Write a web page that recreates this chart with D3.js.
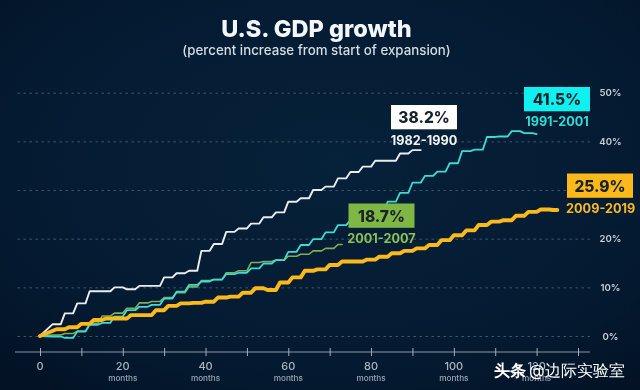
<!DOCTYPE html>
<html><head><meta charset="utf-8">
<script src="https://cdn.jsdelivr.net/npm/d3@7"></script>
<style>html,body{margin:0;padding:0;background:#041729}svg{display:block;filter:blur(0.45px)}text{font-family:Inter,"Noto Sans",sans-serif}</style>
</head><body><div id="c"></div>
<script>
// Quarterly GDP growth, percent above the start of each expansion (index = quarter number)
const white1982 = [0,2.4,4.65,6.7,9.2,9.2,10,9.6,10.3,10.3,12.05,12.9,13.4,17.5,18.9,21.4,22.1,23.1,24.4,25.4,27.6,28.3,30,30.7,32.4,33.7,34.8,36,36,37.5,38.2];
const cyan1991 = [0,-0.1,-0.4,0.9,2.3,2.7,4,5.3,6,6.4,7.7,9.1,10.5,11.2,11.6,12.7,13,13.9,14.9,15.6,17.3,18.7,19.9,21.3,22.8,23.8,24.6,25.2,27.6,29.4,31.5,32.9,33.8,35.5,38,38.3,40.9,41,42.1,41.7,41.5];
const green2001 = [0,0.2,0.5,1,2.6,4.1,4.7,5.7,6.8,7.1,7.9,8.9,10.1,11.4,11.6,13,13.4,15.1,15.3,15.6,16.4,16.8,17.5,18,18.8];
const orange2009 = [0,1.4,1.8,2.5,3.3,3.6,3.6,4.3,4.3,5.3,6.2,6.7,6.8,7.05,7.9,8.1,8.9,9.8,9.45,11,12.05,13.4,13.7,14.6,15.3,15.3,15.7,16.3,17,17.5,18,18.7,19.7,20.7,21.7,22.8,23.5,23.8,24.7,25.5,26,25.9];
const seriesEnds = {white:92, cyan:120, green:73, orange:125};
const yTicks = [0,10,20,30,40,50];
const yLabelled = [0,10,20,40,50]; // the 30% label sits behind the 25.9% box in the reference
const xTicksMajor = [0,20,40,60,80,100,120];
const xTicksAll = [0,10,20,30,40,50,60,70,80,90,100,110,120,130];
const labels = [
 {name:"1982-1990", pct:"38.2%", box:"#ffffff", col:"#f2f5f7"},
 {name:"1991-2001", pct:"41.5%", box:"#0ff0f0", col:"#2fdcd6"},
 {name:"2001-2007", pct:"18.7%", box:"#7fb644", col:"#8cc152"},
 {name:"2009-2019", pct:"25.9%", box:"#fdb91a", col:"#f7b928"}
];

const W=640,H=390;
const x=d3.scaleLinear().domain([0,130]).range([40,578]);
const y=d3.scaleLinear().domain([0,50]).range([336,92.7]);
const svg=d3.select("#c").append("svg").attr("width",W).attr("height",H);
const defs=svg.append("defs");
const g=defs.append("radialGradient").attr("id","bg").attr("cx","52%").attr("cy","42%").attr("r","75%");
g.append("stop").attr("offset","0%").attr("stop-color","#06213a");
g.append("stop").attr("offset","70%").attr("stop-color","#041a31");
g.append("stop").attr("offset","100%").attr("stop-color","#031224");
svg.append("rect").attr("width",W).attr("height",H).attr("fill","url(#bg)");

// title
svg.append("text").attr("x",316.5).attr("y",37).attr("text-anchor","middle").attr("font-size",23.5).attr("font-weight",800).attr("fill","#f4f7f9").text("U.S. GDP growth");
svg.append("text").attr("x",316.5).attr("y",55).attr("text-anchor","middle").attr("font-size",13.3).attr("font-weight",500).attr("fill","#d5dce2").text("(percent increase from start of expansion)");

// y grid + labels
const ya=svg.append("g").attr("transform","translate(590,0)").call(d3.axisRight(y).tickValues(yTicks).tickSize(-575).tickPadding(8).tickFormat(d=>yLabelled.includes(d)?d+"%":""));
ya.select(".domain").remove();
ya.selectAll("line").attr("stroke","#3f566b").attr("stroke-width",1).attr("stroke-dasharray","2.5,3.5");
ya.selectAll("text").attr("x",20.5).attr("text-anchor","middle").attr("font-size",9.6).attr("font-weight",600).attr("fill","#c6ced6").attr("font-family","Inter");

// x axis
const xa=svg.append("g").attr("transform","translate(0,352)").call(d3.axisBottom(x).tickValues(xTicksAll).tickSize(4).tickFormat(""));
xa.select(".domain").attr("d","M15,0H590").attr("stroke","#8a98a6").attr("stroke-width",1.2);
xa.selectAll(".tick line").attr("y1",-4).attr("y2",4).attr("stroke","#a3aeb9").attr("stroke-width",1);
const xl=svg.append("g").selectAll("g").data(xTicksMajor).join("g").attr("transform",d=>`translate(${x(d)},0)`);
xl.append("text").attr("y",370).attr("text-anchor","middle").attr("font-size",11).attr("font-weight",500).attr("fill","#aab5bf").text(d=>d);
xl.filter(d=>d>0).append("text").attr("y",380.5).attr("text-anchor","middle").attr("font-size",8.2).attr("font-weight",500).attr("fill","#9aa6b2").text("months");

// expands quarterly values into the stepped monthly shape; phase is the lag of the flat part in months
function steps(vals,end,phase){
  const out=[[0,0]];
  vals.forEach((v,q)=>{ if(q===0) return; out.push([3*q+phase,v]); out.push([3*q+phase+2,v]); });
  const kept=out.filter(p=>p[0]<=end);
  const last=kept[kept.length-1];
  if(last[0]<end) kept.push([end,last[1]]);
  return kept;
}
const line=d3.line().x(d=>x(d[0])).y(d=>y(d[1]));
const path=(vals,end,phase,col,w)=>svg.append("path").attr("d",line(steps(vals,end,phase))).attr("fill","none").attr("stroke",col).attr("stroke-width",w).attr("stroke-linejoin","round").attr("stroke-linecap","round");
path(white1982,seriesEnds.white,0,"#e9eef2",1.9);
path(green2001,seriesEnds.green,0,"#7fae55",1.6);
path(cyan1991,seriesEnds.cyan,0,"#3bdcd4",1.8);
path(orange2009,seriesEnds.orange,1,"#fbb91c",3.9);

// callouts
const pos=[{x:391,y:105,ly:145},{x:524,y:87,ly:126},{x:348.5,y:203.5,ly:242.5},{x:567,y:173.5,ly:212.5}];
labels.forEach((l,i)=>{
  const p=pos[i];
  svg.append("rect").attr("x",p.x).attr("y",p.y).attr("width",66).attr("height",24.3).attr("fill",l.box);
  svg.append("text").attr("x",p.x+33).attr("y",p.y+18).attr("text-anchor","middle").attr("font-size",15.5).attr("font-weight",800).attr("fill","#17222c").text(l.pct);
  svg.append("text").attr("x",i===3?600.7:p.x+33).attr("y",p.ly).attr("text-anchor","middle").attr("font-size",12.7).attr("font-weight",700).attr("fill",l.col).text(l.name);
});

// watermark
const wm=svg.append("text").attr("x",494).attr("y",376).attr("font-size",16.2).attr("fill","#ffffff").attr("font-family","'Noto Sans CJK SC'");
wm.append("tspan").attr("font-weight",700).text("头条");
wm.append("tspan").attr("dx",3).text("@边际实验室");
</script></body></html>
